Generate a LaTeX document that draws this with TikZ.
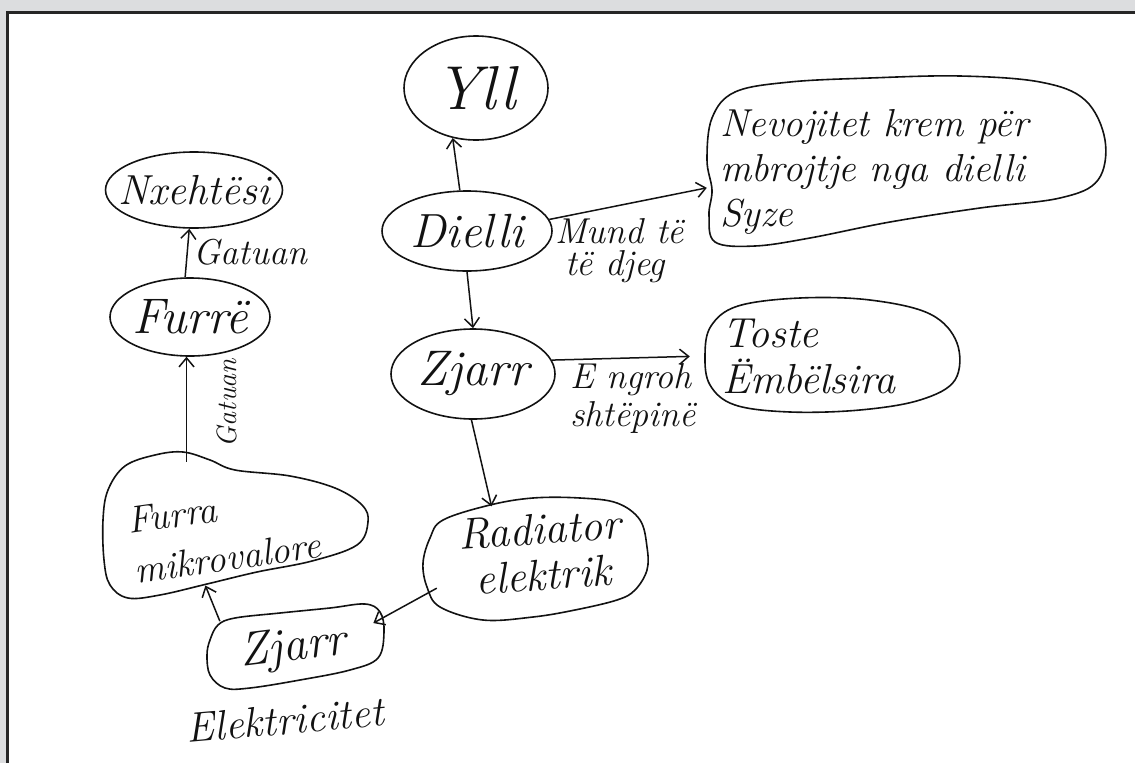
\documentclass[tikz,border=0pt]{standalone}
\usetikzlibrary{shapes.geometric,arrows.meta}
\definecolor{framegray}{RGB}{220,221,223}
\definecolor{ink}{RGB}{18,18,18}
\newcommand{\hw}[2]{\fontsize{#1}{#2}\selectfont\itshape}
\begin{document}
\begin{tikzpicture}[x=1pt,y=-1pt,
  bubble/.style={draw=ink, ellipse, line width=1.6pt, inner sep=0pt},
  ghost/.style={ellipse, inner sep=0pt},
  ghostbox/.style={rectangle, inner sep=0pt},
  outline/.style={draw=ink, line width=1.6pt},
  link/.style={draw=ink, line width=1.5pt, -{Straight Barb[length=9pt,width=15pt,line width=1.5pt]}},
  word/.style={inner sep=0pt, align=left, text=ink}]

% page and frame
\useasboundingbox (0,0) rectangle (1135,763);
\fill[framegray] (0,0) rectangle (1135,763);
\fill[white] (6,11) rectangle (1135,763);
\draw[line width=3pt, black!85] (7,763) -- (7,12) -- (1135,12);

% ---- oval concepts ----
\node[bubble, minimum width=144pt, minimum height=104pt] (yll) at (476,88) {};
\node[word, font=\hw{62}{64}] (yllT) at (yll.center) {Yll};

\node[bubble, minimum width=170pt, minimum height=80pt] (dielli) at (467,231) {};
\node[word, font=\hw{48}{50}] (dielliT) at (dielli.center) {Dielli};

\node[bubble, minimum width=164pt, minimum height=90pt] (zjarr) at (473,374) {};
\node[word, font=\hw{50}{52}] (zjarrT) at (zjarr.center) {Zjarr};

\node[bubble, minimum width=160pt, minimum height=78pt] (furre) at (190,317) {};
\node[word, font=\hw{50}{52}] (furreT) at (furre.center) {Furrë};

\node[bubble, minimum width=177pt, minimum height=76pt] (nxeh) at (194,190) {};
\node[word, font=\hw{42}{44}] (nxehT) at (nxeh.center) {Nxehtësi};

% ---- free-hand blobs ----
\node[ghost, minimum width=256pt, minimum height=110pt] (toste) at (832,356) {};
\draw[outline] plot[smooth cycle, tension=0.6] coordinates {
  (705,355) (711,326) (738,306) (800,298) (870,300) (930,314) (957,343)
  (955,380) (920,400) (860,410) (790,412) (735,405) (710,385)};
\node[word, font=\hw{42}{46}, anchor=west] (tosteT) at (722,356) {Toste\\Ëmbëlsira};

\node[ghostbox, minimum width=396pt, minimum height=168pt] (nev) at (905,160) {};
\draw[outline] plot[smooth cycle, tension=0.6] coordinates {
  (712,118) (735,92) (790,82) (870,78) (960,76) (1040,82) (1085,100)
  (1105,140) (1098,180) (1060,198) (980,208) (890,222) (810,238)
  (755,246) (715,242) (709,215) (712,190) (707,160)};
\node[word, font=\hw{39}{45}, anchor=west] (nevT) at (720,172)
  {Nevojitet krem për\\mbrojtje nga dielli\\Syze};

\node[ghost, minimum width=224pt, minimum height=116pt] (rad) at (535,560) {};
\draw[outline] plot[smooth cycle, tension=0.6] coordinates {
  (423,563) (430,538) (443,520) (490,505) (533,498) (580,498) (617,503)
  (640,520) (647,547) (647,570) (635,590) (617,600) (575,610) (533,617)
  (483,620) (440,607) (427,587)};
\node[word, font=\hw{44}{46}, rotate=4] (radT) at (541,552)
  {Radiator\\\hspace*{14pt}elektrik};

\node[ghost, minimum width=264pt, minimum height=130pt] (furra) at (235,522) {};
\draw[outline] plot[smooth cycle, tension=0.6] coordinates {
  (103,520) (108,490) (125,466) (155,455) (183,452) (210,460) (235,470)
  (290,476) (335,488) (362,505) (368,522) (357,545) (312,561) (257,572)
  (207,584) (160,595) (128,598) (110,585) (104,560)};
\node[word, font=\hw{38}{50}, rotate=8] (furraT) at (224,533)
  {Furra\\mikrovalore};

\node[ghost, minimum width=190pt, minimum height=84pt] (zj2) at (295,647) {};
\draw[outline] plot[smooth cycle, tension=0.6] coordinates {
  (210,640) (218,625) (235,618) (280,613) (330,608) (365,604) (380,612)
  (384,632) (378,658) (350,670) (300,680) (250,688) (225,688) (210,675)
  (207,655)};
\node[word, font=\hw{48}{50}, rotate=7] (zj2T) at (293,649) {Zjarr};

% ---- connectors ----
\draw[link] (dielli.100) -- (yll.245);
\draw[link] (dielli.8) -- (nev.188);
\draw[link] (dielli.south) -- (zjarr.north);
\draw[link, shorten >=14pt] (zjarr.10) -- (toste.west);
\draw[link] (zjarr.268) -- (rad.129);
\draw[link] (rad.196) -- (zj2.17);
\draw[link] (zj2.161) -- (furra.245);
\draw[link, shorten <=-5pt] (furra.north -| furre.265) -- (furre.265);
\draw[link] (furre.97) -- (nxeh.263);

% ---- link labels ----
\node[word, font=\hw{36}{38}] (gat1) at (250,252) {Gatuan};
\node[word, font=\hw{28}{30}, rotate=90] (gat2) at (227,403) {Gatuan};
\node[word, font=\hw{36}{32}, anchor=north west] (mund) at (555,218)
  {Mund të\\\hspace*{10pt}të djeg};
\node[word, font=\hw{36}{38}, anchor=north west] (ngroh) at (570,363)
  {E ngroh\\shtëpinë};
\node[word, font=\hw{42}{44}, rotate=5] (elek) at (285,720) {Elektricitet};
\end{tikzpicture}
\end{document}
